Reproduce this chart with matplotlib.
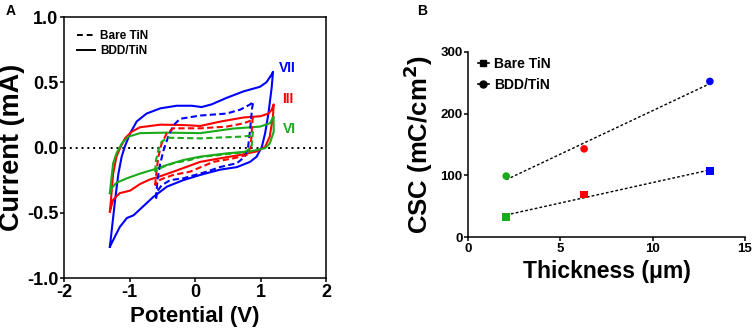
import numpy as np
import matplotlib
matplotlib.use("Agg")
import matplotlib.pyplot as plt
from matplotlib.lines import Line2D

plt.rcParams['font.family'] = ['Liberation Sans', 'DejaVu Sans']
plt.rcParams['font.weight'] = 'bold'

# ------------------------- #
# Panel A: cyclic voltammograms (potential V, current mA)
# ------------------------- #
# BDD/TiN, sample VII (blue)
vii_bdd_v = [-1.30, -1.26, -1.22, -1.17, -1.12, -1.07, -0.99, -0.89, -0.74, -0.53, -0.28, -0.05, 0.10, 0.25,
             0.48, 0.74, 0.99, 1.09, 1.17, 1.19,
             1.17, 1.12, 1.07, 1.02, 0.94, 0.84, 0.64, 0.38, 0.08, -0.18, -0.43, -0.64, -0.79, -0.94, -1.04,
             -1.15, -1.22, -1.30]
vii_bdd_i = [-0.76, -0.58, -0.40, -0.20, -0.07, 0.01, 0.11, 0.20, 0.26, 0.30, 0.32, 0.32, 0.31, 0.33,
             0.38, 0.43, 0.465, 0.50, 0.56, 0.58,
             0.46, 0.26, 0.11, 0.005, -0.07, -0.11, -0.15, -0.17, -0.21, -0.25, -0.30, -0.38, -0.45, -0.52, -0.54,
             -0.61, -0.68, -0.76]
# BDD/TiN, sample III (red)
iii_bdd_v = [-1.30, -1.28, -1.25, -1.20, -1.145, -1.07, -0.97, -0.84, -0.53, -0.18, 0.08, 0.40, 0.74, 1.00,
             1.12, 1.17, 1.20,
             1.19, 1.14, 1.07, 0.94, 0.69, 0.38, 0.08, -0.33, -0.53, -0.69, -0.84, -0.99, -1.15, -1.25, -1.30]
iii_bdd_i = [-0.49, -0.38, -0.20, -0.07, -0.005, 0.07, 0.12, 0.155, 0.175, 0.172, 0.165, 0.20, 0.23, 0.24,
             0.26, 0.29, 0.33,
             0.24, 0.083, 0.005, -0.03, -0.057, -0.083, -0.11, -0.185, -0.22, -0.245, -0.28, -0.33, -0.35, -0.40,
             -0.49]
# BDD/TiN, sample VI (green)
vi_bdd_v = [-1.30, -1.28, -1.25, -1.20, -1.12, -1.02, -0.84, -0.43, 0.08, 0.58, 0.99, 1.14, 1.20,
            1.20, 1.14, 1.07, 0.84, 0.48, 0.08, -0.18, -0.43, -0.64, -0.84, -1.04, -1.20, -1.27, -1.30]
vi_bdd_i = [-0.35, -0.25, -0.12, -0.045, 0.03, 0.083, 0.11, 0.114, 0.11, 0.145, 0.16, 0.185, 0.236,
            0.12, 0.03, -0.005, -0.03, -0.045, -0.07, -0.096, -0.134, -0.17, -0.20, -0.236, -0.27, -0.31, -0.35]

# Bare TiN, sample VII (blue)
vii_bare_v = [-0.595, -0.575, -0.53, -0.48, -0.41, -0.33, -0.23, 0.08, 0.48, 0.69, 0.84, 0.89,
              0.87, 0.84, 0.81, 0.76, 0.64, 0.38, 0.18, -0.18, -0.38, -0.51, -0.585, -0.595]
vii_bare_i = [-0.39, -0.25, -0.12, -0.02, 0.083, 0.17, 0.22, 0.245, 0.26, 0.29, 0.33, 0.35,
              0.30, 0.134, 0.005, -0.07, -0.12, -0.15, -0.185, -0.236, -0.25, -0.29, -0.34, -0.39]
# Bare TiN, sample III (red)
iii_bare_v = [-0.61, -0.585, -0.56, -0.51, -0.43, -0.33, 0.08, 0.48, 0.74, 0.87, 0.88,
              0.87, 0.85, 0.79, 0.585, 0.28, -0.076, -0.33, -0.48, -0.585, -0.61]
iii_bare_i = [-0.29, -0.17, -0.07, 0.03, 0.11, 0.147, 0.147, 0.16, 0.185, 0.21, 0.23,
              0.16, 0.005, -0.057, -0.083, -0.11, -0.185, -0.21, -0.236, -0.26, -0.29]
# Bare TiN, sample VI (green)
vi_bare_v = [-0.61, -0.595, -0.56, -0.51, -0.41, 0.08, 0.69, 0.85, 0.88,
             0.875, 0.86, 0.76, 0.38, 0.08, -0.08, -0.33, -0.48, -0.585, -0.61]
vi_bare_i = [-0.185, -0.096, -0.02, 0.045, 0.075, 0.07, 0.083, 0.09, 0.12,
             0.06, 0.0, -0.035, -0.057, -0.073, -0.096, -0.12, -0.147, -0.17, -0.185]

# ------------------------- #
# Panel B: charge storage capacity vs thickness
# ------------------------- #
thickness = [2.07, 6.29, 13.1]
csc_bare = [33, 69, 107]
csc_bdd = [99, 143, 252]

BLUE = '#0000ff'
RED = '#ff0000'
GREEN = '#1aaa1a'
point_colors = [GREEN, RED, BLUE]

fig = plt.figure(figsize=(7.56, 3.36), dpi=100)

# ----- Panel A -----
axA = fig.add_axes([0.0847, 0.1726, 0.3466, 0.7768])
axA.axhline(0, color='black', linestyle=(0, (1, 2)), linewidth=1.4)

for v, i, c in [(vii_bdd_v, vii_bdd_i, BLUE), (iii_bdd_v, iii_bdd_i, RED), (vi_bdd_v, vi_bdd_i, GREEN)]:
    axA.plot(v, i, color=c, linewidth=1.5, solid_joinstyle='round')
for v, i, c in [(vii_bare_v, vii_bare_i, BLUE), (iii_bare_v, iii_bare_i, RED), (vi_bare_v, vi_bare_i, GREEN)]:
    axA.plot(v, i, color=c, linewidth=1.5, linestyle=(0, (3, 1.6)), dash_joinstyle='round')

axA.set_xlim(-2, 2)
axA.set_ylim(-1.0, 1.0)
axA.set_xticks([-2, -1, 0, 1, 2])
axA.set_yticks([-1.0, -0.5, 0.0, 0.5, 1.0])
axA.set_yticklabels(['-1.0', '-0.5', '0.0', '0.5', '1.0'])
axA.set_xticklabels(['-2', '-1', '0', '1', '2'])
axA.tick_params(direction='out', length=3, width=1.1, labelsize=13, pad=1)
for s in axA.spines.values():
    s.set_linewidth(1.1)
axA.set_xlabel('Potential (V)', fontsize=16, fontweight='bold', labelpad=4)
axA.set_ylabel('Current (mA)', fontsize=19.5, fontweight='bold')
axA.yaxis.set_label_coords(-0.148, 0.5)

axA.text(1.28, 0.61, 'VII', color=BLUE, fontsize=10, fontweight='bold', va='center')
axA.text(1.33, 0.37, 'III', color=RED, fontsize=10, fontweight='bold', va='center')
axA.text(1.34, 0.14, 'VI', color=GREEN, fontsize=10, fontweight='bold', va='center')

legA = [Line2D([], [], color='black', linestyle=(0, (3, 2)), linewidth=1.4),
        Line2D([], [], color='black', linestyle='-', linewidth=1.4)]
axA.legend(legA, ['Bare TiN', 'BDD/TiN'], loc='upper left', frameon=False,
           fontsize=8.5, handlelength=1.5, handletextpad=0.45, borderaxespad=0.3,
           labelspacing=0.3, bbox_to_anchor=(0.018, 0.983))

fig.text(0.007, 0.955, 'A', fontsize=10, fontweight='bold')

# ----- Panel B -----
axB = fig.add_axes([0.619, 0.2937, 0.3664, 0.5524])
x_fit = np.array([min(thickness), max(thickness)])
for y, m in [(csc_bare, 's'), (csc_bdd, 'o')]:
    p = np.polyfit(thickness, y, 1)
    axB.plot(x_fit, np.polyval(p, x_fit), color='black', linestyle=(0, (2, 1.5)), linewidth=1.0)
    axB.scatter(thickness, y, c=point_colors, marker=m, s=30, zorder=3, linewidths=0)

axB.set_xlim(0, 15)
axB.set_ylim(0, 300)
axB.set_xticks([0, 5, 10, 15])
axB.set_yticks([0, 100, 200, 300])
axB.spines['top'].set_visible(False)
axB.spines['right'].set_visible(False)
for s in ['left', 'bottom']:
    axB.spines[s].set_linewidth(1.1)
axB.tick_params(direction='out', length=3, width=1.1, labelsize=9.5, pad=1)
axB.set_xlabel('Thickness (\u03bcm)', fontsize=16.5, fontweight='bold', labelpad=4)
axB.set_ylabel('CSC (mC/cm$^\\mathbf{2}$)', fontsize=18.5, fontweight='bold')
axB.yaxis.set_label_coords(-0.118, 0.5)

legB = [Line2D([], [], color='black', marker='s', markersize=5, linewidth=1.2),
        Line2D([], [], color='black', marker='o', markersize=5, linewidth=1.2)]
axB.legend(legB, ['Bare TiN', 'BDD/TiN'], loc='upper left', frameon=False,
           fontsize=10, handlelength=0.8, handletextpad=0.35, labelspacing=0.5,
           bbox_to_anchor=(-0.01, 1.038))

fig.text(0.552, 0.955, 'B', fontsize=10, fontweight='bold')

fig.savefig('out.png', dpi=100)
